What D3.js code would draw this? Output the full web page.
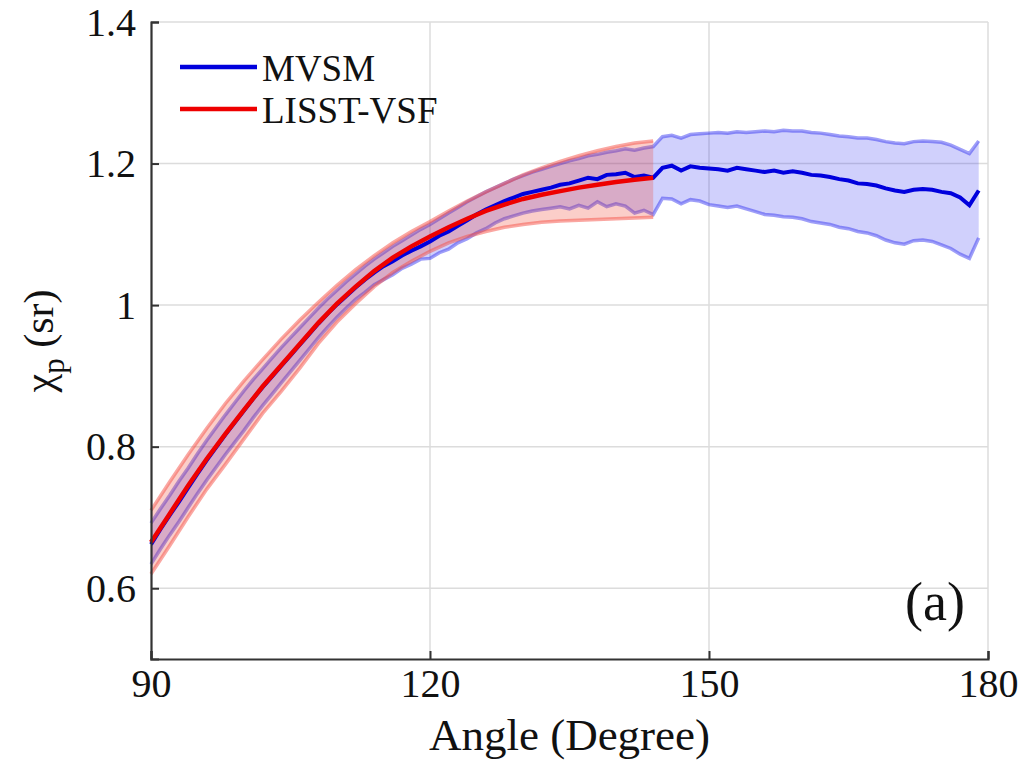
<!DOCTYPE html>
<html>
<head>
<meta charset="utf-8">
<script src="https://cdn.jsdelivr.net/npm/d3@7"></script>
<style>
  html, body { margin: 0; padding: 0; background: #fff; }
  svg { display: block; }
  text { font-family: "Liberation Serif", "DejaVu Serif", serif; fill: #111; }
</style>
</head>
<body>
<div id="chart"></div>
<script>
// LISST-VSF, read every 2 degrees from 90 to 144
const redAngle = [90, 92, 94, 96, 98, 100, 102, 104, 106, 108, 110, 112, 114, 116, 118, 120,
  122, 124, 126, 128, 130, 132, 134, 136, 138, 140, 142, 144]
const redMean = [0.665, 0.705, 0.745, 0.783, 0.818, 0.852, 0.885, 0.915, 0.945, 0.975, 1.002, 1.026,
  1.048, 1.067, 1.083, 1.097, 1.110, 1.122, 1.133, 1.142, 1.150, 1.156, 1.161, 1.166, 1.170, 1.174, 1.177, 1.180]
const redUpper = [0.710, 0.750, 0.789, 0.826, 0.861, 0.893, 0.923, 0.952, 0.979, 1.004, 1.028, 1.050,
  1.070, 1.088, 1.104, 1.118, 1.133, 1.147, 1.160, 1.172, 1.184, 1.194, 1.203, 1.211, 1.218, 1.224, 1.229, 1.232]
const redLower = [0.620, 0.660, 0.701, 0.740, 0.775, 0.811, 0.847, 0.878, 0.911, 0.946, 0.976, 1.002,
  1.026, 1.046, 1.062, 1.076, 1.088, 1.097, 1.104, 1.110, 1.114, 1.117, 1.119, 1.120, 1.121, 1.122, 1.123, 1.124]

// MVSM, read every degree from 90 to 179
const blueAngle = d3.range(90, 180)
const blueMean = [0.662, 0.683, 0.703, 0.722, 0.742, 0.762, 0.781, 0.799, 0.817, 0.834,
  0.851, 0.868, 0.884, 0.899, 0.914, 0.929, 0.944, 0.959, 0.974, 0.988,
  1.001, 1.013, 1.025, 1.036, 1.046, 1.055, 1.062, 1.070, 1.077, 1.083,
  1.090, 1.098, 1.104, 1.112, 1.120, 1.128, 1.135, 1.141, 1.147, 1.152,
  1.157, 1.160, 1.163, 1.166, 1.170, 1.172, 1.176, 1.180, 1.178, 1.184,
  1.185, 1.187, 1.181, 1.183, 1.180, 1.194, 1.197, 1.190, 1.196, 1.194,
  1.193, 1.192, 1.190, 1.194, 1.192, 1.190, 1.188, 1.190, 1.187, 1.189,
  1.187, 1.184, 1.183, 1.181, 1.178, 1.176, 1.172, 1.171, 1.169, 1.165,
  1.162, 1.160, 1.163, 1.164, 1.163, 1.160, 1.158, 1.152, 1.141, 1.162]
const blueLower = [0.634, 0.655, 0.675, 0.694, 0.714, 0.734, 0.753, 0.771, 0.789, 0.806,
  0.823, 0.841, 0.858, 0.874, 0.890, 0.906, 0.922, 0.938, 0.954, 0.969,
  0.983, 0.996, 1.008, 1.018, 1.029, 1.036, 1.043, 1.052, 1.058, 1.065,
  1.066, 1.074, 1.079, 1.088, 1.094, 1.102, 1.108, 1.116, 1.122, 1.126,
  1.130, 1.133, 1.135, 1.137, 1.139, 1.136, 1.141, 1.137, 1.146, 1.139,
  1.143, 1.140, 1.130, 1.134, 1.128, 1.151, 1.150, 1.143, 1.149, 1.147,
  1.142, 1.140, 1.138, 1.140, 1.136, 1.132, 1.128, 1.127, 1.125, 1.124,
  1.122, 1.118, 1.116, 1.114, 1.110, 1.108, 1.104, 1.102, 1.098, 1.092,
  1.088, 1.086, 1.091, 1.092, 1.090, 1.085, 1.080, 1.072, 1.066, 1.095]
const blueUpper = [0.692, 0.712, 0.731, 0.751, 0.770, 0.790, 0.809, 0.827, 0.845, 0.862,
  0.879, 0.895, 0.910, 0.925, 0.940, 0.954, 0.968, 0.982, 0.996, 1.009,
  1.021, 1.033, 1.044, 1.055, 1.065, 1.074, 1.083, 1.091, 1.099, 1.107,
  1.114, 1.122, 1.130, 1.138, 1.146, 1.153, 1.160, 1.166, 1.172, 1.178,
  1.183, 1.188, 1.192, 1.196, 1.200, 1.204, 1.207, 1.211, 1.213, 1.216,
  1.218, 1.221, 1.219, 1.222, 1.224, 1.238, 1.240, 1.236, 1.241, 1.242,
  1.243, 1.244, 1.243, 1.245, 1.244, 1.245, 1.246, 1.245, 1.247, 1.246,
  1.246, 1.244, 1.243, 1.241, 1.239, 1.238, 1.236, 1.236, 1.234, 1.231,
  1.229, 1.228, 1.231, 1.232, 1.231, 1.230, 1.226, 1.220, 1.214, 1.232]

const xTicks = [90, 120, 150, 180]
const yTicks = [0.6, 0.8, 1, 1.2, 1.4]

const width = 1023
const height = 770
const m = { left: 151, top: 22, right: 988, bottom: 659 }
const serif = '"Liberation Serif", "DejaVu Serif", serif'

const svg = d3.select('#chart').append('svg')
  .attr('width', width)
  .attr('height', height)

const x = d3.scaleLinear().domain([90, 180]).range([m.left, m.right])
const y = d3.scaleLinear().domain([0.5, 1.4]).range([m.bottom, m.top])

// grid
svg.append('g')
  .selectAll('line')
  .data(xTicks.slice(1))
  .join('line')
  .attr('x1', (d) => x(d)).attr('x2', (d) => x(d))
  .attr('y1', m.top).attr('y2', m.bottom)
  .attr('stroke', '#dcdcdc').attr('stroke-width', 1.5)
svg.append('g')
  .selectAll('line')
  .data(yTicks)
  .join('line')
  .attr('x1', m.left).attr('x2', m.right)
  .attr('y1', (d) => y(d)).attr('y2', (d) => y(d))
  .attr('stroke', '#dcdcdc').attr('stroke-width', 1.5)

const band = (ang, lo, hi) => d3.area()
  .x((d, i) => x(ang[i]))
  .y0((d, i) => y(lo[i]))
  .y1((d, i) => y(hi[i]))(ang)
const line = (ang, vals) => d3.line()
  .x((d, i) => x(ang[i]))
  .y((d, i) => y(vals[i]))(ang)

// MVSM band
svg.append('path').attr('d', band(blueAngle, blueLower, blueUpper))
  .attr('fill', 'rgba(40,40,240,0.22)')
svg.append('path').attr('d', line(blueAngle, blueUpper))
  .attr('fill', 'none').attr('stroke', 'rgba(40,40,240,0.45)').attr('stroke-width', 3.5)
svg.append('path').attr('d', line(blueAngle, blueLower))
  .attr('fill', 'none').attr('stroke', 'rgba(40,40,240,0.45)').attr('stroke-width', 3.5)

// LISST-VSF band
svg.append('path').attr('d', band(redAngle, redLower, redUpper))
  .attr('fill', 'rgba(240,60,40,0.25)')
svg.append('path').attr('d', line(redAngle, redUpper))
  .attr('fill', 'none').attr('stroke', 'rgba(245,80,70,0.5)').attr('stroke-width', 3.5)
svg.append('path').attr('d', line(redAngle, redLower))
  .attr('fill', 'none').attr('stroke', 'rgba(245,80,70,0.5)').attr('stroke-width', 3.5)

// mean lines
svg.append('path').attr('d', line(blueAngle, blueMean))
  .attr('fill', 'none').attr('stroke', '#0000dd').attr('stroke-width', 4)
svg.append('path').attr('d', line(redAngle, redMean))
  .attr('fill', 'none').attr('stroke', '#ee0000').attr('stroke-width', 4.5)

// axes
const xAxis = svg.append('g')
  .attr('transform', `translate(0,${m.bottom})`)
  .call(d3.axisBottom(x).tickValues(xTicks).tickSize(-8).tickPadding(10).tickFormat(d3.format('d')))
const yAxis = svg.append('g')
  .attr('transform', `translate(${m.left},0)`)
  .call(d3.axisLeft(y).tickValues(yTicks).tickSize(-8).tickPadding(15).tickFormat((d) => String(d)))
for (const ax of [xAxis, yAxis]) {
  ax.select('.domain').attr('stroke', '#333').attr('stroke-width', 2.2)
  ax.selectAll('.tick line').attr('stroke', '#333').attr('stroke-width', 2)
  ax.selectAll('.tick text')
    .style('font-family', serif)
    .attr('font-size', 40).attr('fill', '#111')
}
yAxis.selectAll('.tick text').attr('dy', '0.33em')

// axis titles
svg.append('text')
  .attr('x', (m.left + m.right) / 2).attr('y', 750)
  .attr('text-anchor', 'middle').attr('font-size', 45)
  .style('font-family', serif)
  .text('Angle (Degree)')

const yl = svg.append('text')
  .attr('transform', `translate(53,341) rotate(-90)`)
  .attr('text-anchor', 'middle').attr('font-size', 42)
  .style('font-family', serif)
yl.append('tspan').text('χ')
yl.append('tspan').attr('font-size', 31).attr('dy', 11).text('p')
yl.append('tspan').attr('dy', -11).text(' (sr)')

// panel label
svg.append('text')
  .attr('x', 935).attr('y', 620)
  .attr('text-anchor', 'middle').attr('font-size', 54)
  .style('font-family', serif)
  .text('(a)')

// legend
const legend = [
  { name: 'MVSM', color: '#0000dd' },
  { name: 'LISST-VSF', color: '#ee0000' },
]
const lg = svg.append('g')
lg.selectAll('line')
  .data(legend)
  .join('line')
  .attr('x1', 180).attr('x2', 257)
  .attr('y1', (d, i) => 67 + i * 42).attr('y2', (d, i) => 67 + i * 42)
  .attr('stroke', (d) => d.color).attr('stroke-width', 4.5)
lg.selectAll('text')
  .data(legend)
  .join('text')
  .attr('x', 262).attr('y', (d, i) => 81 + i * 42)
  .attr('font-size', 37)
  .style('font-family', serif)
  .text((d) => d.name)
</script>
</body>
</html>
